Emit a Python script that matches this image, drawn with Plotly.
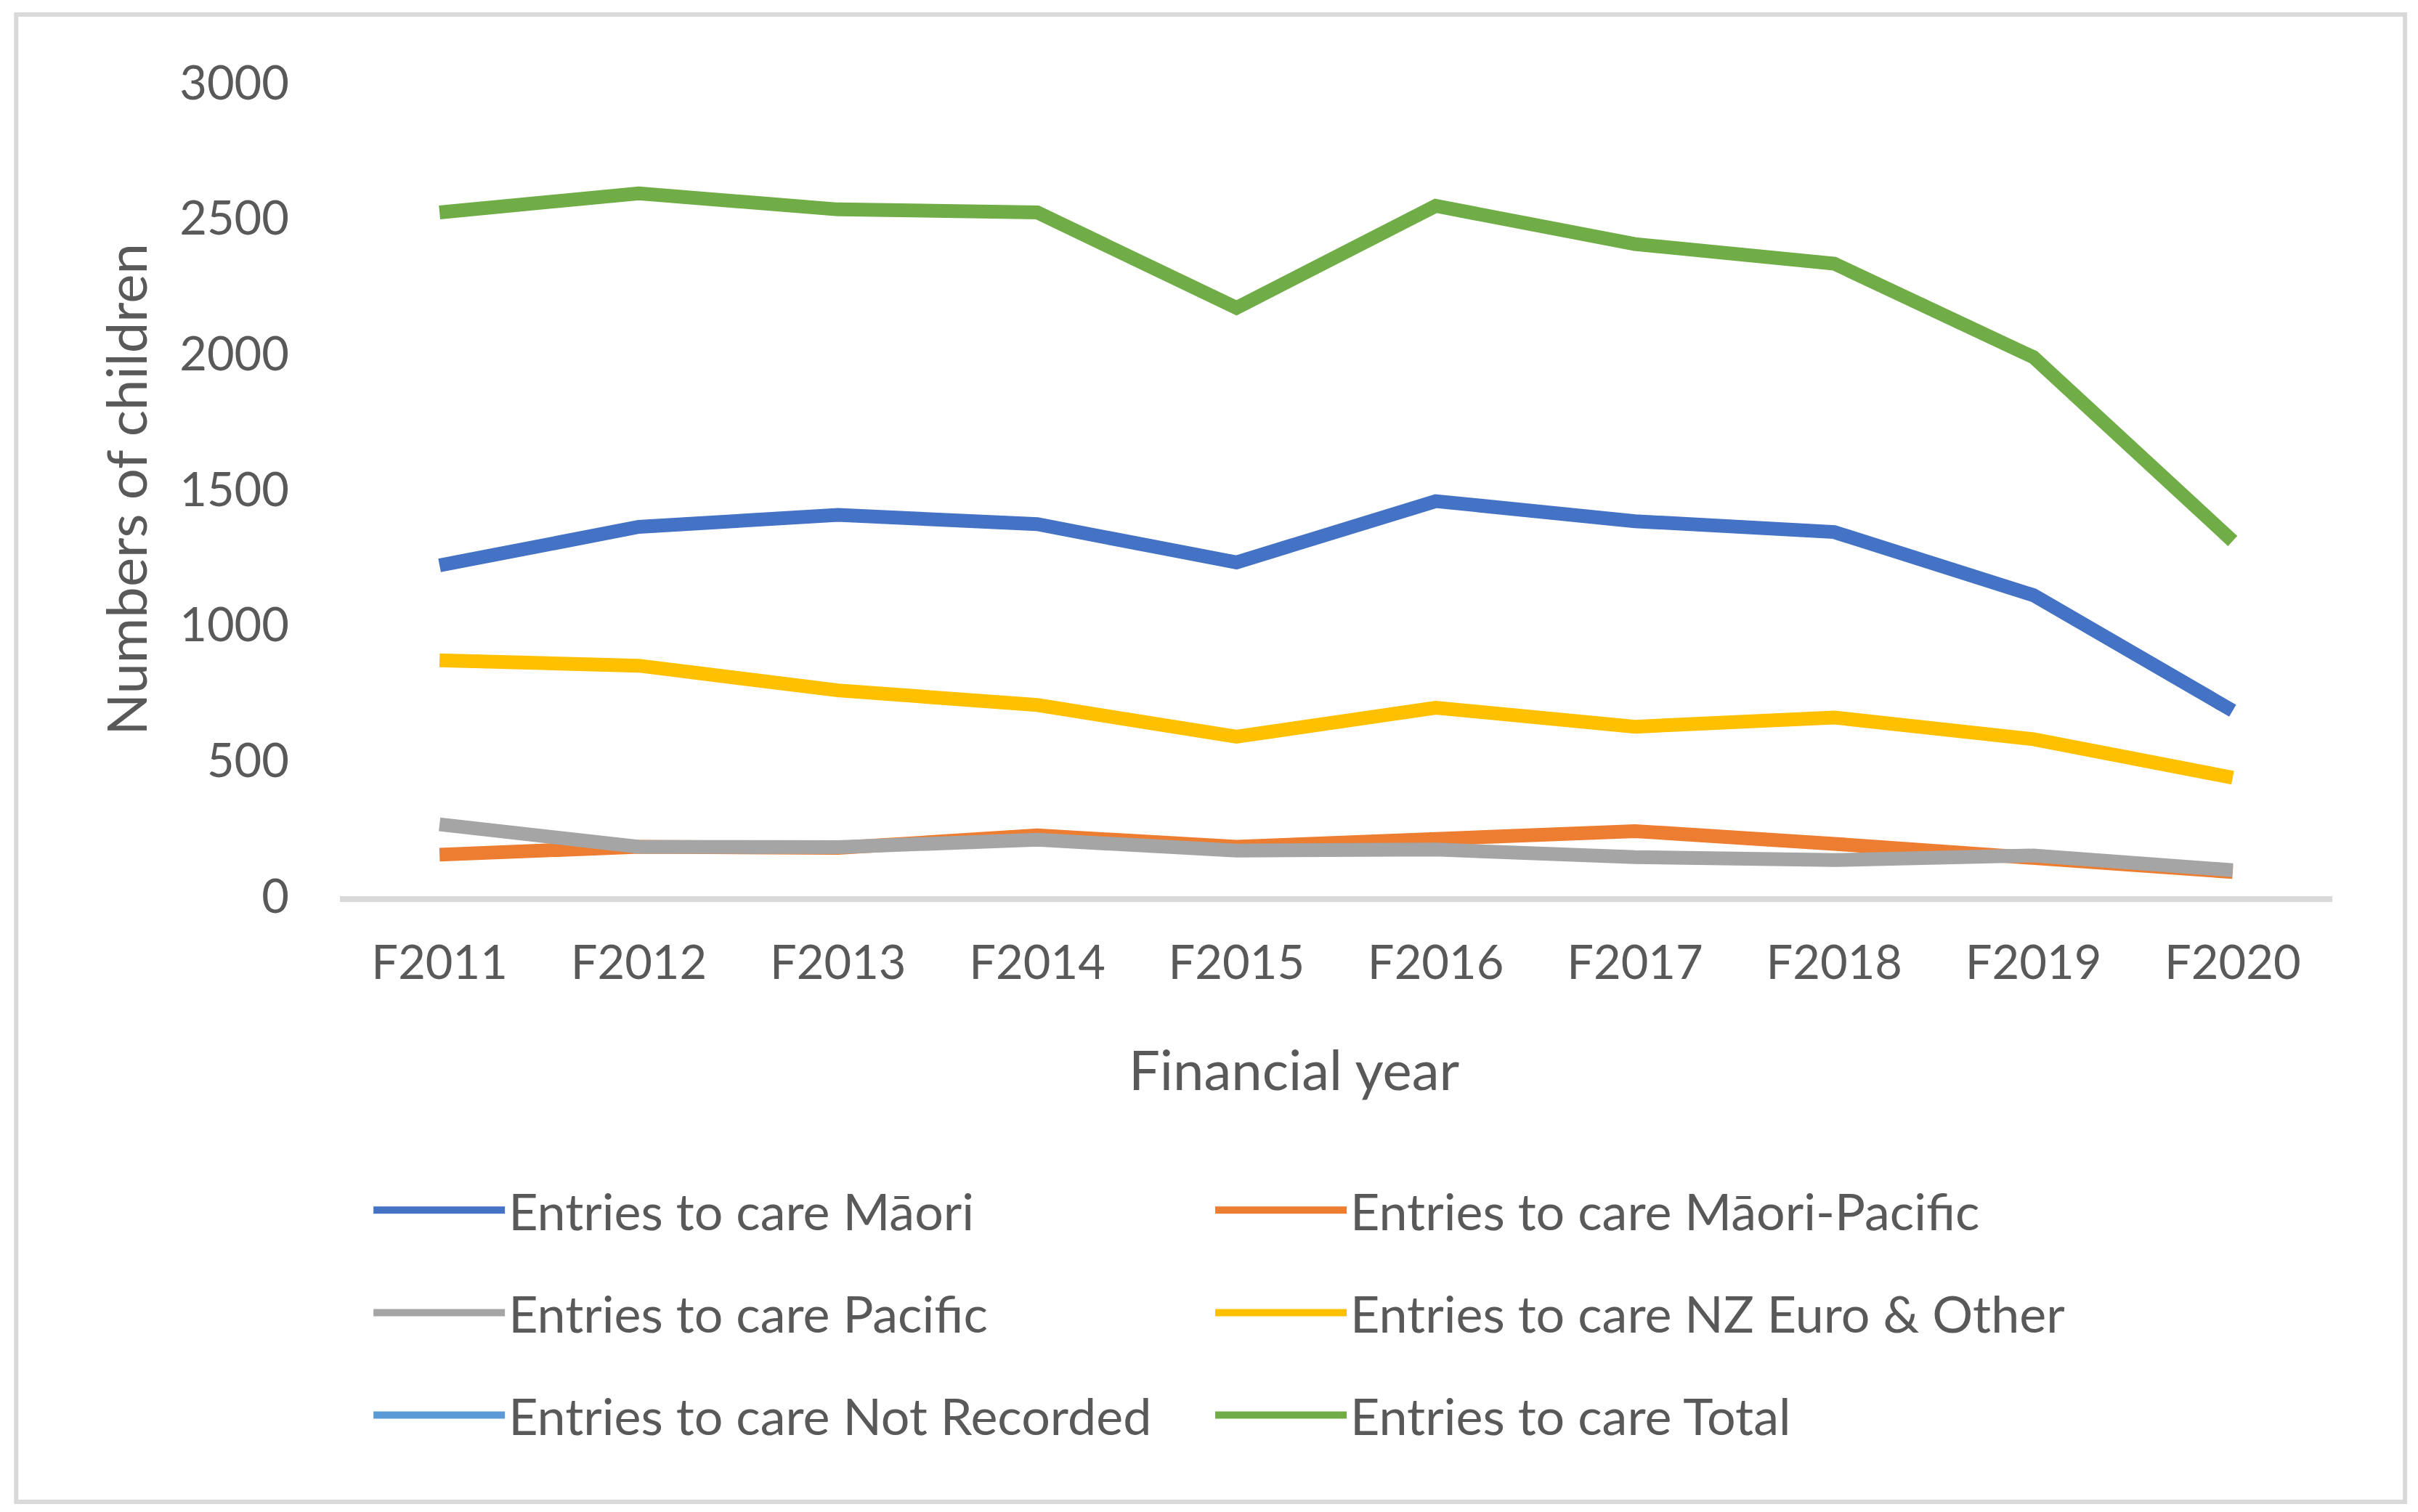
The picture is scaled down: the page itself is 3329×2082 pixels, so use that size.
import plotly.graph_objects as go

years = ["F2011", "F2012", "F2013", "F2014", "F2015", "F2016", "F2017", "F2018", "F2019", "F2020"]

maori = [1220, 1362, 1406, 1372, 1231, 1457, 1383, 1343, 1110, 684]
maori_pacific = [153, 182, 178, 224, 182, 211, 240, 193, 136, 89]
pacific = [265, 182, 181, 208, 168, 172, 144, 133, 150, 96]
nz_euro_other = [870, 850, 759, 705, 588, 695, 625, 659, 579, 437]
not_recorded = [None, None, None, None, None, None, None, None, None, None]
total = [2522, 2592, 2533, 2522, 2170, 2546, 2405, 2333, 1988, 1310]

y_ticks = [0, 500, 1000, 1500, 2000, 2500, 3000]

series = [
    ("Entries to care Māori", maori, "#4472C4"),
    ("Entries to care Māori-Pacific", maori_pacific, "#ED7D31"),
    ("Entries to care Pacific", pacific, "#A5A5A5"),
    ("Entries to care NZ Euro & Other", nz_euro_other, "#FFC000"),
    ("Entries to care Not Recorded", not_recorded, "#5B9BD5"),
    ("Entries to care Total", total, "#70AD47"),
]

FONT = "Lato, Open Sans, sans-serif"
TXT = "#595959"
FS_TICK = 65
FS_TITLE = 76
FS_LEG = 70

fig = go.Figure()
legend_ids = ["legend", "legend2", "legend3", "legend4", "legend5", "legend6"]
for (name, vals, color), lid in zip(series, legend_ids):
    fig.add_trace(go.Scatter(
        x=years, y=vals, name=name, mode="lines",
        line=dict(color=color, width=19),
        legend=lid,
    ))

W, H = 3329, 2082
ml, mr, mt, mb = 460, 126, 106, 856

col_x = [0.015, 0.4375]
row_y = [-0.386, -0.512, -0.638]

def leg(i):
    return dict(
        orientation="h", x=col_x[i % 2], xanchor="left", y=row_y[i // 2], yanchor="middle",
        itemwidth=181,
        font=dict(family=FONT, size=FS_LEG, color=TXT),
        bgcolor="rgba(0,0,0,0)",
    )

legends = {lid: leg(i) for i, lid in enumerate(legend_ids)}

fig.update_layout(
    width=W, height=H,
    margin=dict(l=ml, r=mr, t=mt, b=mb),
    paper_bgcolor="white", plot_bgcolor="white",
    font=dict(family=FONT, size=FS_TICK, color=TXT),
    showlegend=True,
    **legends,
    xaxis=dict(
        type="category", range=[-0.5, 9.5],
        showgrid=False, showline=True, linecolor="#D9D9D9", linewidth=8,
        ticks="", ticklabelstandoff=28,
        tickfont=dict(family=FONT, size=FS_TICK, color=TXT),
        zeroline=False,
    ),
    yaxis=dict(
        range=[0, 3000], tickvals=y_ticks,
        showgrid=False, showline=False, zeroline=False,
        ticks="", ticklabelstandoff=69,
        tickfont=dict(family=FONT, size=FS_TICK, color=TXT),
        title=dict(text="Numbers of children", font=dict(family=FONT, size=FS_TITLE, color=TXT), standoff=19),
    ),
    annotations=[dict(
        text="Financial year", xref="paper", yref="paper",
        x=0.479, y=-0.212, xanchor="center", yanchor="middle", showarrow=False,
        font=dict(family=FONT, size=FS_TITLE, color=TXT),
    )],
    shapes=[dict(
        type="rect", xref="paper", yref="paper",
        x0=-0.1625, x1=1.0365, y0=-0.7447, y1=1.0840,
        line=dict(color="#D9D9D9", width=6), fillcolor="rgba(0,0,0,0)", layer="below",
    )],
)

fig.write_html("out.html")
